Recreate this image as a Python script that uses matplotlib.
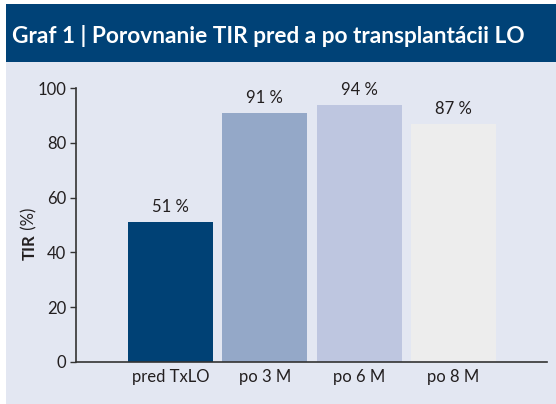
import matplotlib
matplotlib.use("Agg")
import matplotlib.pyplot as plt
from matplotlib.patches import Rectangle

categories = ["pred TxLO", "po 3 M", "po 6 M", "po 8 M"]
values = [51, 91, 94, 87]
labels = ["51 %", "91 %", "94 %", "87 %"]
colors = ["#004175", "#94A8C8", "#BEC6E0", "#EDEDED"]
yticks = [0, 20, 40, 60, 80, 100]

plt.rcParams["font.family"] = ["Lato", "DejaVu Sans"]
ink = "#231F20"

fig = plt.figure(figsize=(5.56, 4.04), dpi=100)
fig.patch.set_facecolor("white")
# light panel and title band
fig.add_artist(Rectangle((6 / 556, 0), 1, 1 - 4 / 404, transform=fig.transFigure,
                         facecolor="#E3E7F2", edgecolor="none", zorder=0))
fig.add_artist(Rectangle((6 / 556, 1 - 62 / 404), 1, 58 / 404, transform=fig.transFigure,
                         facecolor="#004277", edgecolor="none", zorder=0))
fig.text(12 / 556, 1 - 36 / 404, "Graf 1 | Porovnanie TIR pred a po transplantácii LO",
         color="white", fontsize=16.3, fontweight="bold", va="center", ha="left")

ax = fig.add_axes([76 / 556, 42.3 / 404, (547 - 76) / 556, (361.7 - 88.3) / 404])
ax.set_facecolor("none")
x = list(range(len(categories)))
ax.bar(x, values, width=0.9, color=colors, zorder=2)
for xi, v, lab in zip(x, values, labels):
    ax.annotate(lab, (xi, v), xytext=(0, 5), textcoords="offset points",
                ha="center", va="bottom", fontsize=12, color=ink)

ax.set_xlim(-1, 3.99)
ax.set_ylim(0, 100)
ax.set_yticks(yticks)
ax.set_xticks(x)
ax.set_xticklabels(categories)
ax.tick_params(axis="x", length=0, pad=5, labelsize=12, labelcolor=ink)
ax.tick_params(axis="y", length=4, width=1, pad=3, labelsize=12, labelcolor=ink, color="#333333")
for s in ("top", "right"):
    ax.spines[s].set_visible(False)
for s in ("left", "bottom"):
    ax.spines[s].set_color("#333333")
    ax.spines[s].set_linewidth(1.2)

tir = ax.text(-0.098, 0.42, "TIR", transform=ax.transAxes, rotation=90,
              ha="center", va="center", fontsize=12, fontweight="bold", color=ink)
ax.annotate(" (%)", xy=(0.5, 1), xycoords=tir, rotation=90, ha="center", va="bottom",
            fontsize=12, color=ink)

fig.savefig("out.png", dpi=100)
